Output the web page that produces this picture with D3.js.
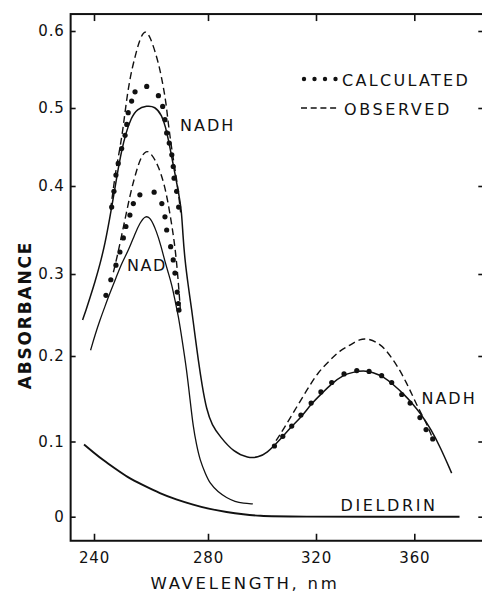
<!DOCTYPE html>
<html>
<head>
<meta charset="utf-8">
<script src="https://cdn.jsdelivr.net/npm/d3@7"></script>
<style>
  html, body { margin: 0; padding: 0; background: #fff; }
  svg text { font-family: "DejaVu Sans", sans-serif; fill: #111; }
</style>
</head>
<body>
<div id="grafico"></div>
<script>
// valores: [longitud de onda (nm), absorbancia]
const ticksLongitud = [240, 280, 320, 360];
const ticksAbsorbancia = [0, 0.1, 0.2, 0.3, 0.4, 0.5, 0.6];

const nadhSolida = [
  [236.0, 0.244], [237.2, 0.256], [238.6, 0.271], [240.4, 0.291], [242.1, 0.311],
  [243.9, 0.335], [245.6, 0.365], [246.7, 0.385], [247.9, 0.410], [249.7, 0.446],
  [251.2, 0.468], [253.0, 0.487], [255.1, 0.499], [258.5, 0.503], [261.4, 0.502],
  [263.8, 0.491], [265.1, 0.476], [266.3, 0.456], [267.5, 0.433], [268.6, 0.412],
  [269.7, 0.392], [270.7, 0.373], [271.2, 0.344], [271.9, 0.316], [273.0, 0.287],
  [274.3, 0.256], [275.4, 0.226], [276.6, 0.195], [277.9, 0.166], [279.5, 0.137],
  [281.5, 0.119], [284.4, 0.106], [289.4, 0.086], [294.9, 0.078], [298.5, 0.079],
  [301.7, 0.084], [306.7, 0.102], [310.4, 0.116], [314.7, 0.129], [318.2, 0.144],
  [322.3, 0.156], [326.5, 0.168], [331.1, 0.178], [335.1, 0.181], [339.3, 0.183],
  [343.2, 0.181], [347.4, 0.176], [351.3, 0.167], [355.5, 0.156], [359.1, 0.145],
  [363.0, 0.131], [366.8, 0.114], [370.5, 0.093], [375.2, 0.058]
];

const nadhObservada = [
  [245.8, 0.373], [246.7, 0.395], [247.7, 0.421], [249.0, 0.446], [250.2, 0.474],
  [251.2, 0.504], [252.6, 0.539], [254.4, 0.567], [256.1, 0.590], [257.9, 0.602],
  [259.7, 0.593], [262.0, 0.567], [263.3, 0.547], [264.3, 0.528], [265.3, 0.506],
  [265.9, 0.485], [266.7, 0.463], [267.5, 0.442], [268.3, 0.424], [269.0, 0.408],
  [269.7, 0.390], [270.4, 0.370]
];

const nadhObservada340 = [
  [305.2, 0.101], [307.9, 0.114], [312.2, 0.137], [316.6, 0.160], [320.8, 0.181],
  [325.7, 0.195], [329.8, 0.207], [333.8, 0.213], [337.9, 0.221], [341.2, 0.221],
  [344.7, 0.217], [348.1, 0.209], [351.5, 0.195], [354.2, 0.183], [356.9, 0.168],
  [358.9, 0.156], [361.0, 0.143], [362.9, 0.132], [365.0, 0.121], [366.4, 0.111],
  [367.7, 0.102]
];

const nadhCalculada = [
  [246.2, 0.376], [247.0, 0.394], [247.7, 0.414], [248.5, 0.429], [249.7, 0.448],
  [250.9, 0.465], [251.5, 0.479], [252.0, 0.494], [253.2, 0.509], [254.4, 0.521],
  [258.5, 0.528], [262.6, 0.516], [264.1, 0.502], [264.9, 0.485], [265.5, 0.468],
  [266.4, 0.455], [267.3, 0.440], [267.8, 0.425], [268.1, 0.410], [269.0, 0.394],
  [269.7, 0.376],
  [304.6, 0.094], [307.7, 0.106], [311.0, 0.118], [314.4, 0.131], [318.2, 0.145],
  [322.0, 0.158], [326.4, 0.169], [331.4, 0.179], [336.6, 0.183], [341.6, 0.182],
  [346.7, 0.177], [350.8, 0.169], [354.9, 0.155], [358.3, 0.145], [362.3, 0.128],
  [364.8, 0.114], [367.5, 0.103]
];

const nadSolida = [
  [238.8, 0.207], [240.4, 0.226], [242.1, 0.244], [243.9, 0.261], [245.6, 0.277],
  [247.7, 0.295], [249.8, 0.313], [252.0, 0.326], [254.4, 0.346], [256.1, 0.358],
  [257.9, 0.366], [259.7, 0.365], [262.0, 0.348], [263.5, 0.332], [264.9, 0.314],
  [266.1, 0.301], [267.3, 0.287], [268.4, 0.268], [269.6, 0.249], [270.9, 0.220],
  [272.5, 0.184], [273.7, 0.149], [274.8, 0.117], [276.0, 0.095], [277.2, 0.075],
  [279.0, 0.058], [280.7, 0.044], [283.7, 0.033], [286.9, 0.025], [290.0, 0.020],
  [293.1, 0.018], [296.6, 0.017]
];

const nadObservada = [
  [246.8, 0.302], [248.3, 0.322], [249.7, 0.344], [251.2, 0.367], [253.0, 0.395],
  [255.0, 0.421], [256.5, 0.437], [258.3, 0.446], [260.0, 0.442], [262.5, 0.427],
  [264.9, 0.400], [266.7, 0.368], [268.1, 0.339], [269.1, 0.310], [269.8, 0.280],
  [270.4, 0.252]
];

const nadCalculada = [
  [244.2, 0.274], [245.9, 0.293], [247.7, 0.310], [249.1, 0.325], [250.3, 0.341],
  [251.2, 0.354], [252.6, 0.367], [253.8, 0.380], [256.1, 0.390], [261.1, 0.393],
  [263.8, 0.380], [264.9, 0.365], [265.5, 0.350], [266.9, 0.331], [267.8, 0.316],
  [268.4, 0.301], [269.2, 0.278], [269.6, 0.264], [269.8, 0.256]
];

const dieldrin = [
  [236.5, 0.096], [239.7, 0.086], [243.3, 0.075], [247.4, 0.064], [251.5, 0.053],
  [257.2, 0.042], [263.2, 0.031], [268.8, 0.023], [274.8, 0.016], [280.7, 0.010],
  [286.9, 0.006], [293.0, 0.003], [299.3, 0.001], [306.7, 0], [378.4, 0]
];

const grafico = () => {
  const ancho = 482, alto = 594;
  // limites del marco, en unidades de los datos
  const xMin = 231.8, xMax = 389.3;
  const yMin = -0.032, yMax = 0.622;

  // la figura original (escaneada) tiene las marcas algo desiguales
  const x = d3.scaleLinear()
    .domain(ticksLongitud)
    .range([94, 208, 316, 414.3]);
  const y = d3.scaleLinear()
    .domain(ticksAbsorbancia)
    .range([516.7, 441.5, 356, 274, 186, 108, 31]);

  const $svg = d3.select("#grafico")
    .append("svg")
    .attr("width", ancho)
    .attr("height", alto);

  const izq = x(xMin), der = x(xMax), arriba = y(yMax), abajo = y(yMin);

  const estiloEje = g => {
    g.select(".domain").remove();
    g.selectAll(".tick line").attr("stroke", "#111").attr("stroke-width", 1.6);
    g.selectAll("text")
      .attr("font-family", "DejaVu Sans, sans-serif")
      .attr("font-size", 15)
      .attr("letter-spacing", 0.8)
      .attr("fill", "#111");
  };

  $svg.append("g")
    .attr("transform", `translate(${izq},0)`)
    .call(d3.axisLeft(y).tickValues(ticksAbsorbancia).tickSize(-5).tickPadding(6)
      .tickFormat(d => d === 0 ? "0" : d3.format(".1f")(d)))
    .call(estiloEje);

  $svg.append("g")
    .attr("transform", `translate(${der},0)`)
    .call(d3.axisRight(y).tickValues(ticksAbsorbancia).tickSize(-8).tickFormat(""))
    .call(estiloEje);

  $svg.append("g")
    .attr("transform", `translate(0,${abajo})`)
    .call(d3.axisBottom(x).tickValues(ticksLongitud).tickSize(-7).tickPadding(12))
    .call(estiloEje);

  $svg.append("g")
    .attr("transform", `translate(0,${arriba})`)
    .call(d3.axisTop(x).tickValues(ticksLongitud).tickSize(-7).tickFormat(""))
    .call(estiloEje);

  // marco
  $svg.append("rect")
    .attr("x", izq)
    .attr("y", arriba)
    .attr("width", der - izq)
    .attr("height", abajo - arriba)
    .attr("fill", "none")
    .attr("stroke", "#111")
    .attr("stroke-width", 2);

  const linea = d3.line()
    .x(d => x(d[0]))
    .y(d => y(d[1]))
    .curve(d3.curveBasis);

  const dibujar = (datos, grosor, guiones) => {
    $svg.append("path")
      .datum(datos)
      .attr("d", linea)
      .attr("fill", "none")
      .attr("stroke", "#111")
      .attr("stroke-width", grosor)
      .attr("stroke-dasharray", guiones || null);
  };

  dibujar(dieldrin, 1.9);
  dibujar(nadSolida, 1.3);
  dibujar(nadhSolida, 1.5);
  dibujar(nadObservada, 1.4, "7,4");
  dibujar(nadhObservada, 1.4, "7,4");
  dibujar(nadhObservada340, 1.4, "7,4");

  $svg.append("g")
    .selectAll("circle")
    .data(nadCalculada.concat(nadhCalculada))
    .join("circle")
    .attr("cx", d => x(d[0]))
    .attr("cy", d => y(d[1]))
    .attr("r", 2.6)
    .attr("fill", "#111");

  // leyenda
  const leyenda = $svg.append("g");
  leyenda.selectAll("circle")
    .data(d3.range(4))
    .join("circle")
    .attr("cx", i => 304 + i * 10.5)
    .attr("cy", 79)
    .attr("r", 2.2)
    .attr("fill", "#111");
  leyenda.append("line")
    .attr("x1", 301).attr("x2", 337)
    .attr("y1", 108).attr("y2", 108)
    .attr("stroke", "#111")
    .attr("stroke-width", 1.4)
    .attr("stroke-dasharray", "6,3.7");
  leyenda.append("text")
    .attr("x", 342).attr("y", 86)
    .attr("font-size", 16)
    .attr("letter-spacing", 2.3)
    .text("CALCULATED");
  leyenda.append("text")
    .attr("x", 344).attr("y", 115)
    .attr("font-size", 16)
    .attr("letter-spacing", 2.6)
    .text("OBSERVED");

  // rotulos de las curvas
  const rotulo = (texto, nm, abs, espacio) => {
    $svg.append("text")
      .attr("x", x(nm))
      .attr("y", y(abs))
      .attr("font-size", 16)
      .attr("letter-spacing", espacio)
      .text(texto);
  };
  rotulo("NADH", 270.2, 0.4705, 2);
  rotulo("NAD", 251.6, 0.3034, 1.5);
  rotulo("NADH", 362.9, 0.1439, 2);
  rotulo("DIELDRIN", 330.0, 0.0076, 2.6);

  // titulos de los ejes
  $svg.append("text")
    .attr("x", 245)
    .attr("y", 589)
    .attr("text-anchor", "middle")
    .attr("font-size", 16.5)
    .attr("letter-spacing", 2.7)
    .text("WAVELENGTH, nm");

  $svg.append("text")
    .attr("transform", "translate(31,315) rotate(-90)")
    .attr("text-anchor", "middle")
    .attr("font-size", 17)
    .attr("font-weight", "bold")
    .attr("letter-spacing", 1.8)
    .text("ABSORBANCE");
};

grafico();
</script>
</body>
</html>
